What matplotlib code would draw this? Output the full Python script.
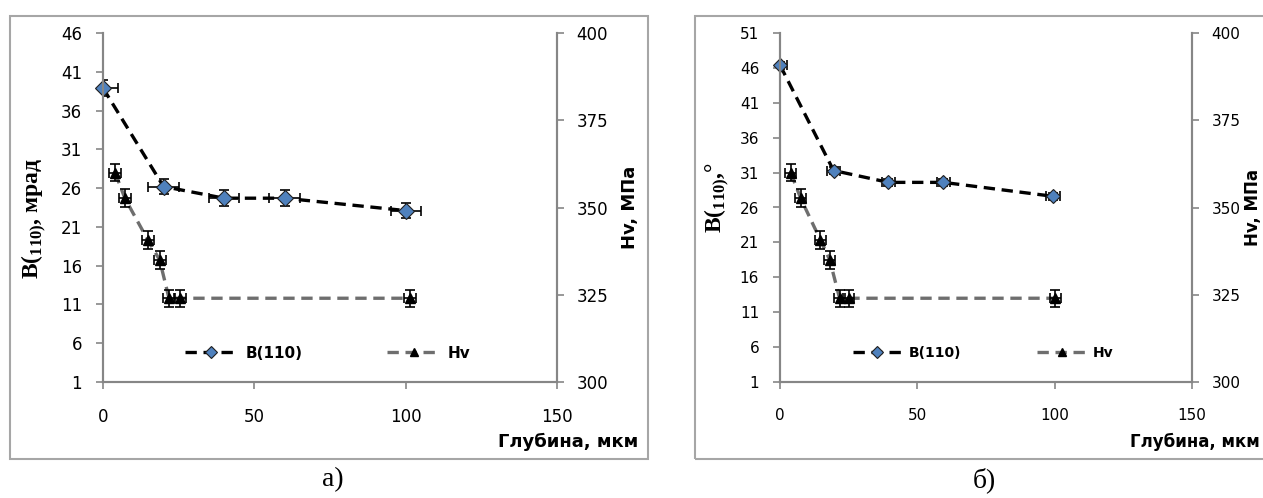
import matplotlib
matplotlib.use('Agg')
import matplotlib.pyplot as plt
from matplotlib.patches import Rectangle
from matplotlib.lines import Line2D

#===== data =====
depth_ticks = [0, 50, 100, 150]
hv_ticks = [300, 325, 350, 375, 400]

# panel a) - B in mrad
depth_b_a = [0, 20, 40, 60, 100]
b_a = [38.9, 26.2, 24.7, 24.7, 23.1]
b_a_xerr = 5
b_a_yerr = 1.0
b_ticks_a = [1, 6, 11, 16, 21, 26, 31, 36, 41, 46]

# panel b) - B in degrees
depth_b_b = [0, 19.5, 39.5, 59.5, 99.5]
b_b = [46.4, 31.3, 29.6, 29.6, 27.6]
b_b_xerr = 2.5
b_b_yerr = 0.5
b_ticks_b = [1, 6, 11, 16, 21, 26, 31, 36, 41, 46, 51]

# microhardness Hv, MPa (same for both panels)
depth_hv_a = [4, 7.2, 14.8, 18.7, 21.8, 25.3, 101.5]
depth_hv_b = [3.9, 7.5, 14.7, 18.1, 21.7, 25.1, 100.2]
hv = [360, 352.7, 340.7, 335, 324, 324, 324]
hv_xerr = 2
hv_yerr = 2.5

W, H = 1263, 498
SPINE = '#868686'
FRAME = '#A6A6A6'
BLUE = '#4F81BD'
GRAY = '#6E6E6E'

plt.rcParams['mathtext.fontset'] = 'custom'
plt.rcParams['mathtext.rm'] = 'Liberation Serif:bold'
plt.rcParams['mathtext.bf'] = 'Liberation Serif:bold'

fig = plt.figure(figsize=(W / 100, H / 100), dpi=100)

# outer chart frames (like excel chart area)
fig.patches.append(Rectangle((10 / W, 1 - 459 / H), 638 / W, 443 / H, transform=fig.transFigure,
                             fill=False, edgecolor=FRAME, linewidth=1.5))
fig.patches.append(Rectangle((695 / W, 1 - 459 / H), 600 / W, 443 / H, transform=fig.transFigure,
                             fill=False, edgecolor=FRAME, linewidth=1.5))


def draw_panel(px0, px1, depth_b, b, bxe, bye, bticks, ylab, depth_hv, fs, leg_x, ms, letter, letter_x):
    rect = [px0 / W, 1 - 382 / H, (px1 - px0) / W, 349 / H]
    ax = fig.add_axes(rect)
    ax2 = ax.twinx()

    ax.set_xlim(0, 150)
    ax.set_ylim(bticks[0], bticks[-1])
    ax2.set_ylim(300, 400)
    ax.set_xticks(depth_ticks)
    ax.set_yticks(bticks)
    ax2.set_yticks(hv_ticks)

    for a in (ax, ax2):
        a.spines['top'].set_visible(False)
        for s in ('left', 'right', 'bottom'):
            a.spines[s].set_color(SPINE)
            a.spines[s].set_linewidth(1.5)
        a.tick_params(colors=SPINE, labelcolor='black', labelsize=fs, length=5, width=1.2)
    ax.tick_params(axis='x', pad=14)
    ax.tick_params(axis='y', pad=10)
    ax2.tick_params(axis='y', pad=9)

    # B(110) series
    ax.plot(depth_b, b, color='black', linestyle=(0, (3.4, 2)), linewidth=2.4, zorder=2)
    ax.errorbar(depth_b, b, xerr=bxe, yerr=bye, fmt='none', ecolor='black',
                elinewidth=1.2, capsize=3.5, capthick=1.2, zorder=3)
    ax.plot(depth_b, b, linestyle='none', marker='D', markersize=ms, markerfacecolor=BLUE,
            markeredgecolor='#1F1F1F', markeredgewidth=0.8, zorder=4, clip_on=False)

    # Hv series
    ax2.plot(depth_hv, hv, color=GRAY, linestyle=(0, (3.4, 2)), linewidth=2.4, zorder=2)
    ax2.errorbar(depth_hv, hv, xerr=hv_xerr, yerr=hv_yerr, fmt='none', ecolor='black',
                 elinewidth=1.2, capsize=3.5, capthick=1.2, zorder=3)
    ax2.plot(depth_hv, hv, linestyle='none', marker='^', markersize=7.5, color='black', zorder=4)

    handles = [Line2D([], [], color='black', linestyle=(0, (3.4, 2)), linewidth=2.4, marker='D',
                      markersize=6, markerfacecolor=BLUE, markeredgecolor='#1F1F1F', markeredgewidth=0.8),
               Line2D([], [], color=GRAY, linestyle=(0, (3.4, 2)), linewidth=2.4, marker='^',
                      markersize=6, markerfacecolor='black', markeredgecolor='black')]
    ax2.legend(handles, ['B(110)', 'Hv'], ncol=2, loc='center left', bbox_to_anchor=(leg_x, 0.083),
               frameon=False, borderpad=0, borderaxespad=0, handlelength=3.5, handletextpad=0.5,
               columnspacing=5.5, numpoints=1, prop={'weight': 'bold', 'size': fs - 1})

    ax.text(ylab[1], ylab[2], ylab[0], transform=ax.transAxes, rotation=90, ha='center', va='center',
            fontsize=17, fontfamily='Liberation Serif', fontweight='bold')
    ax.text(ylab[3], 0.5, 'Hv, МПа', transform=ax.transAxes, rotation=90, ha='center', va='center',
            fontsize=fs + 1, fontweight='bold')
    ax.text(ylab[4], -0.172, 'Глубина, мкм', transform=ax.transAxes, ha='right', va='center',
            fontsize=fs + 1, fontweight='bold')
    fig.text(letter_x / W, 1 - 480 / H, letter, ha='left', va='center', fontsize=20,
             fontfamily='Liberation Serif')
    return ax, ax2


draw_panel(103, 557, depth_b_a, b_a, b_a_xerr, b_a_yerr, b_ticks_a,
           (r'B($_{110)}$, мрад', -0.154, 0.47, 1.161, 1.178), depth_hv_a, 12, 0.18, 8, 'а)', 322)
draw_panel(780, 1192, depth_b_b, b_b, b_b_xerr, b_b_yerr, b_ticks_b,
           (r'B($_{110)}$,°', -0.153, 0.53, 1.148, 1.165), depth_hv_b, 11, 0.177, 7, 'б)', 973)

fig.savefig('out.png', dpi=100)
